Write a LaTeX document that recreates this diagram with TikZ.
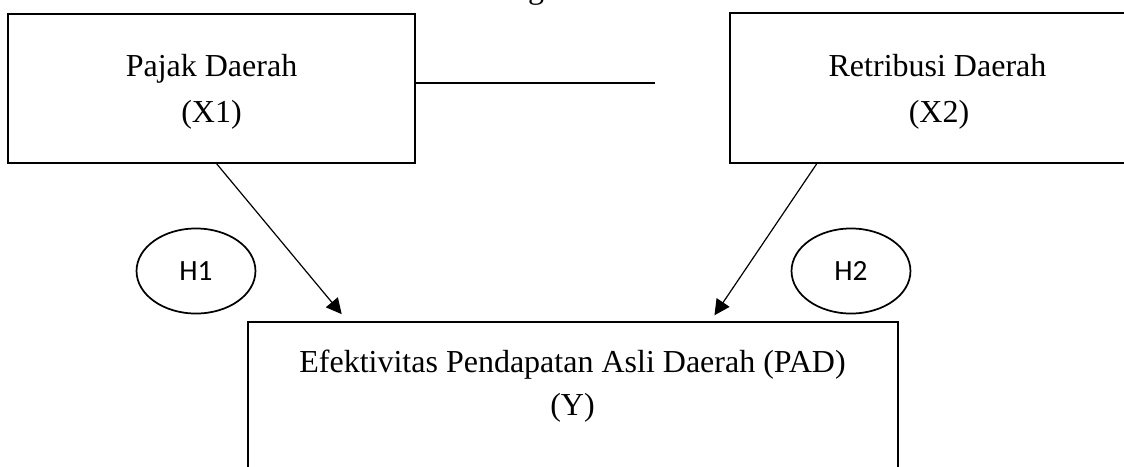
\documentclass[tikz,border=0pt]{standalone}
\usepackage{fontspec}
\setmainfont{Liberation Serif}
\newfontfamily\hypfont{Carlito}
\usetikzlibrary{arrows.meta,calc,shapes.geometric}

\begin{document}
\begin{tikzpicture}[x=0.375pt,y=-0.375pt,
  varbox/.style={draw,rectangle,line width=0.7pt,inner sep=0pt},
  hypo/.style={draw,ellipse,line width=0.65pt,inner sep=0pt,
    minimum width=44.6pt,minimum height=31.9pt,
    font=\hypfont\fontsize{11}{13}\selectfont},
  boxtext/.style={anchor=base,inner sep=0pt,font=\fontsize{12}{14}\selectfont},
  link/.style={line width=0.45pt,-{Triangle[length=5.8pt,width=5.8pt]}},
  joinline/.style={line width=0.5pt}]

  % page frame
  \useasboundingbox (0,0) rectangle (1124,466);
  \clip (0,0) rectangle (1124,466);

  % caption above the figure, mostly outside the page
  \node[boxtext] (caption) at (509,-2) {Gambar 1. Kerangka Pemikiran};

  % variable boxes
  \node[varbox,minimum width=152.6pt,minimum height=55.9pt] (x1) at (211.5,88.5) {};
  \node[varbox,minimum width=155.6pt,minimum height=56.25pt] (x2) at (937.5,88) {};
  \node[varbox,minimum width=243.75pt,minimum height=66.75pt] (y) at (573,411) {};

  % box texts
  \node[boxtext] (x1a) at (211.5,76) {Pajak Daerah};
  \node[boxtext] (x1b) at (211.5,122) {(X1)};
  \node[boxtext] (x2a) at (937.5,76) {Retribusi Daerah};
  \node[boxtext] (x2b) at (939,122) {(X2)};
  \node[boxtext] (ya) at (572.5,372) {Efektivitas Pendapatan Asli Daerah (PAD)};
  \node[boxtext] (yb) at (572.5,415) {(Y)};

  % hypothesis labels
  \node[hypo] (h1) at (196,271) {H1};
  \node[hypo] (h2) at (851,271) {H2};

  % line between the independent variables
  \coordinate (joinend) at (655,83);
  \draw[joinline] (x1.east |- joinend) -- (joinend);

  % effects on the dependent variable
  \draw[link,shorten >=9*0.375pt]
    ($(x1.south west)!0.513!(x1.south east)$) -- ($(y.north west)!0.154!(y.north east)$);
  \draw[link,shorten >=7*0.375pt]
    ($(x2.south west)!0.21!(x2.south east)$) -- ($(y.north west)!0.711!(y.north east)$);
\end{tikzpicture}
\end{document}
